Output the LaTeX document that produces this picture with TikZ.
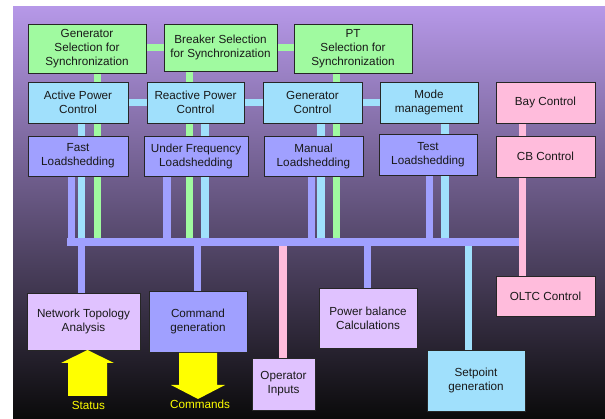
\documentclass[tikz,border=0pt]{standalone}
\usepackage{fontspec}
\setmainfont{Liberation Sans}
\pgfdeclarelayer{bg}
\pgfdeclarelayer{wires}
\pgfsetlayers{bg,wires,main}
\definecolor{cgreen}{RGB}{160,250,160}
\definecolor{cblue}{RGB}{160,224,252}
\definecolor{clav}{RGB}{160,160,255}
\definecolor{clilac}{RGB}{224,194,255}
\definecolor{cpink}{RGB}{255,188,220}
\definecolor{cbgtop}{RGB}{182,152,232}
\definecolor{cyell}{RGB}{255,255,0}
\tikzset{
  box/.style={draw=black!85, line width=0.8pt, align=center, inner sep=0pt,
    font=\fontsize{11.7}{14}\selectfont, text=black!90},
  wire/.style={line width=7.5pt},
  gw/.style={wire, draw=cgreen},
  bw/.style={wire, draw=cblue},
  lw/.style={wire, draw=clav},
  pw/.style={wire, draw=cpink},
  lbl/.style={font=\fontsize{11.7}{14}\selectfont, text=cyell, inner sep=0pt},
  bigarrow/.style={fill=cyell, draw=none}
}
\begin{document}
\begin{tikzpicture}[x=1pt,y=-1pt]
\useasboundingbox (0,0) rectangle (605,419);
\begin{pgfonlayer}{bg}
\fill[white] (0,0) rectangle (605,419);
\shade[top color=cbgtop, bottom color=black!96] (13,7) rectangle (605,419);
\end{pgfonlayer}

% top row
\node[box, fill=cgreen, minimum width=118pt, minimum height=49pt] (gensel) at (87,48.5) {Generator\\Selection for\\Synchronization};
\node[box, fill=cgreen, minimum width=113pt, minimum height=47pt] (brksel) at (220.5,47.5) {Breaker Selection\\for Synchronization};
\node[box, fill=cgreen, minimum width=118pt, minimum height=49pt] (ptsel) at (353,48.5) {PT\\Selection for\\Synchronization};
% second row
\node[box, fill=cblue, minimum width=100pt, minimum height=41pt] (actp) at (78,102.5) {Active Power\\Control};
\node[box, fill=cblue, minimum width=97pt, minimum height=41pt] (reactp) at (195.5,102.5) {Reactive Power\\Control};
\node[box, fill=cblue, minimum width=99pt, minimum height=41pt] (genctl) at (312.5,102.5) {Generator\\Control};
\node[box, fill=cblue, minimum width=98pt, minimum height=41pt] (mode) at (429,102.5) {Mode\\management};
\node[box, fill=cpink, minimum width=99pt, minimum height=41pt] (bay) at (545.5,102.5) {Bay Control};
% third row
\node[box, fill=clav, minimum width=100pt, minimum height=40pt] (fastls) at (78,156) {Fast\\Loadshedding};
\node[box, fill=clav, minimum width=104pt, minimum height=40pt] (ufls) at (196,156) {Under Frequency\\Loadshedding};
\node[box, fill=clav, minimum width=99pt, minimum height=40pt] (manls) at (313.5,156) {Manual\\Loadshedding};
\node[box, fill=clav, minimum width=98pt, minimum height=41pt] (testls) at (428,154.5) {Test\\Loadshedding};
\node[box, fill=cpink, minimum width=99pt, minimum height=41pt] (cb) at (545.5,156.5) {CB Control};
% bottom
\node[box, fill=clilac, minimum width=113pt, minimum height=57pt] (nta) at (83.5,321.5) {Network Topology\\Analysis};
\node[box, fill=clav, minimum width=98pt, minimum height=61pt] (cmd) at (198,321.5) {Command\\generation};
\node[box, fill=clilac, minimum width=63pt, minimum height=52pt] (opin) at (283.5,384) {Operator\\Inputs};
\node[box, fill=clilac, minimum width=98pt, minimum height=60pt] (pbc) at (368,318) {Power balance\\Calculations};
\node[box, fill=cblue, minimum width=98pt, minimum height=61pt] (setp) at (476,380.5) {Setpoint\\generation};
\node[box, fill=cpink, minimum width=99pt, minimum height=40pt] (oltc) at (545.5,296) {OLTC Control};

% bus tap coordinates
\coordinate (busL) at (67,242);
\coordinate (busR) at (519,242);
\coordinate (tg1) at (97.5,242);
\coordinate (tg2) at (189.5,242);
\coordinate (tg3) at (336.5,242);
\coordinate (tb1) at (81.5,242);
\coordinate (tb2) at (205,242);
\coordinate (tb3) at (321,242);
\coordinate (tb4) at (445,242);
\coordinate (tl1) at (71.5,242);
\coordinate (tl2) at (167,242);
\coordinate (tl3) at (311.5,242);
\coordinate (tl4) at (429.5,242);
\coordinate (dn1) at (81.5,242);
\coordinate (dn2) at (197.5,242);
\coordinate (dn3) at (367.5,242);
\coordinate (dp1) at (283,242);
\coordinate (ds1) at (468.5,242);
\coordinate (pk) at (522.5,242);

\begin{pgfonlayer}{wires}
% horizontal links
\draw[gw] (gensel.east |- brksel) -- (ptsel.west |- brksel);
\draw[bw] (actp.east) -- (mode.west);
% green verticals
\draw[gw] (gensel.south -| tg1) -- (tg1);
\draw[gw] (brksel.south -| tg2) -- (tg2);
\draw[gw] (ptsel.south -| tg3) -- (tg3);
% blue verticals
\draw[bw] (actp.south -| tb1) -- (tb1);
\draw[bw] (reactp.south -| tb2) -- (tb2);
\draw[bw] (genctl.south -| tb3) -- (tb3);
\draw[bw] (mode.south -| tb4) -- (tb4);
% lavender verticals
\draw[lw] (fastls.south -| tl1) -- (tl1);
\draw[lw] (ufls.south -| tl2) -- (tl2);
\draw[lw] (manls.south -| tl3) -- (tl3);
\draw[lw] (testls.south -| tl4) -- (tl4);
% down from bus
\draw[lw] (dn1) -- (nta.north -| dn1);
\draw[lw] (dn2) -- (cmd.north -| dn2);
\draw[lw] (dn3) -- (pbc.north -| dn3);
\draw[pw] (dp1) -- (opin.north -| dp1);
\draw[bw] (ds1) -- (setp.north -| ds1);
% pink chain
\draw[pw] (bay.south -| pk) -- (oltc.north -| pk);
% bus
\draw[lw] (busL) -- (busR);
\end{pgfonlayer}

% big arrows
\fill[bigarrow] (68,396) -- (107,396) -- (107,363) -- (114,363) -- (87.5,350) -- (61,363) -- (68,363) -- cycle;
\fill[bigarrow] (179,353) -- (217,353) -- (217,385) -- (225,385) -- (198,399) -- (171,385) -- (179,385) -- cycle;
\node[lbl] (status) at (88.5,405) {Status};
\node[lbl] (commands) at (200,404) {Commands};
\end{tikzpicture}
\end{document}
